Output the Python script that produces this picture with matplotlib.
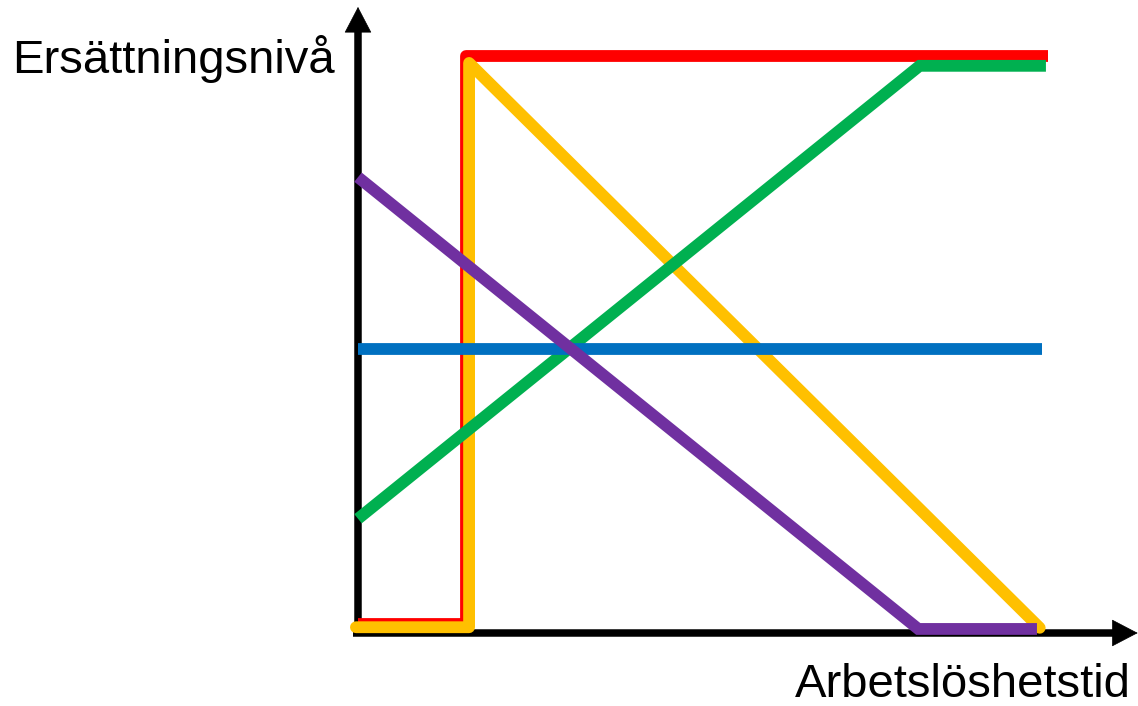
import matplotlib.pyplot as plt

plt.rcParams['font.family'] = ['Liberation Sans', 'DejaVu Sans']

# Schematic curves: replacement level vs. unemployment duration (arbitrary units)
red_x = [0.0, 1.56, 1.56, 10.0]
red_y = [0.16, 0.16, 10.0, 10.0]

yellow_x = [-0.03, 1.61, 1.61, 9.88]
yellow_y = [0.10, 0.10, 9.88, 0.09]

green_x = [0.0, 8.14, 9.97]
green_y = [1.98, 9.83, 9.83]

blue_x = [0.0, 9.91]
blue_y = [4.93, 4.93]

purple_x = [0.0, 8.12, 9.84]
purple_y = [7.90, 0.07, 0.07]

ylabel = 'Ersättningsnivå'
xlabel = 'Arbetslöshetstid'

fig = plt.figure(figsize=(11.38, 7.06), dpi=100)
ax = fig.add_axes([0, 0, 1, 1])
ax.set_xlim(-358 / 69, (1138 - 358) / 69)
ax.set_ylim(-(706 - 633) / 57.7, 633 / 57.7)
ax.axis('off')

# axes lines + arrow heads
ax.plot([0, 0], [-0.06, 10.45], color='black', lw=5.4, solid_capstyle='butt', zorder=1)
ax.plot([-0.07, 11.05], [0, 0], color='black', lw=5.4, solid_capstyle='butt', zorder=1)
head = dict(arrowstyle='-|>,head_length=0.88,head_width=0.46', lw=0.5, color='black',
            mutation_scale=20, shrinkA=0, shrinkB=0)
ax.annotate('', xy=(0, 10.85), xytext=(0, 10.3), arrowprops=head, zorder=1)
ax.annotate('', xy=(11.30, 0), xytext=(10.9, 0), arrowprops=head, zorder=1)

lw = 8.5
ax.plot(red_x, red_y, color='#FF0000', lw=lw, solid_joinstyle='round', solid_capstyle='butt')
ax.plot(yellow_x, yellow_y, color='#FFC000', lw=lw, solid_joinstyle='round', solid_capstyle='round')
ax.plot(green_x, green_y, color='#00B050', lw=lw, solid_joinstyle='miter', solid_capstyle='butt')
ax.plot(blue_x, blue_y, color='#0070C0', lw=lw, solid_capstyle='butt')
ax.plot(purple_x, purple_y, color='#7030A0', lw=lw, solid_joinstyle='miter', solid_capstyle='butt')

fig.text(12 / 1138, 1 - 73 / 706, ylabel, fontsize=34, ha='left', va='baseline')
fig.text(1131 / 1138, 1 - 697 / 706, xlabel, fontsize=34, ha='right', va='baseline')

fig.savefig('out.png', dpi=100)
